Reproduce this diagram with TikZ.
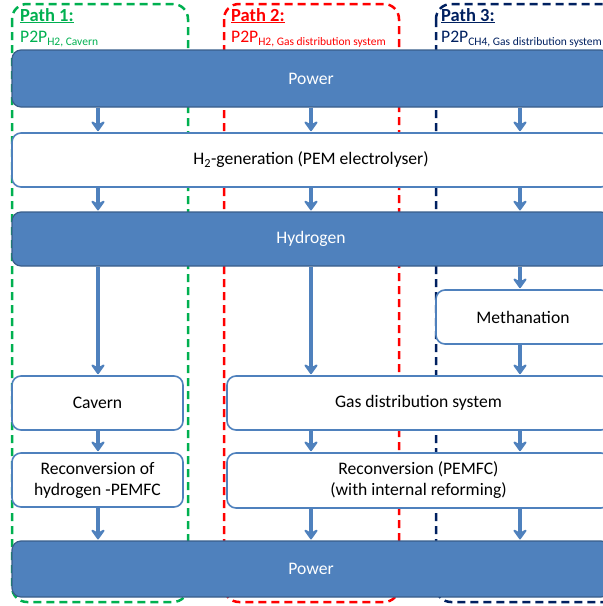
\documentclass[tikz,border=0pt]{standalone}
\usepackage{fontspec}
\setmainfont{Carlito}
\usetikzlibrary{arrows.meta}
\definecolor{bfill}{HTML}{4F81BD}
\definecolor{bdark}{HTML}{385D8A}
\definecolor{pgreen}{HTML}{00B050}
\definecolor{pred}{HTML}{FF0000}
\definecolor{pnavy}{HTML}{002060}
\newcommand\mainfs{\fontsize{17.6}{21}\selectfont}
\newcommand\labfs{\fontsize{18.5}{21}\selectfont\bfseries}
\newcommand\subfs{\fontsize{11.5}{13}\selectfont}
\newcommand\psub[1]{\raisebox{-3.5pt}{\subfs #1}}
\begin{document}
\begin{tikzpicture}[x=1pt,y=-1pt,
  solidbox/.style={draw=bdark, fill=bfill, line width=1.2pt, rounded corners=9pt, text=white, font=\mainfs, inner sep=0pt, align=center},
  whitebox/.style={draw=bfill, fill=white, line width=1.6pt, rounded corners=9pt, text=black, font=\mainfs, inner sep=0pt, align=center},
  frame/.style={line width=2.5pt, dash pattern=on 8pt off 5pt, rounded corners=15pt},
  arr/.style={draw=bfill, line width=3.3pt, shorten >=1pt, -{Stealth[length=12pt,width=17pt,inset=4.5pt,round]}},
  pathlab/.style={anchor=base west, font=\labfs, inner sep=0pt},
  pathsub/.style={anchor=base west, font=\mainfs, inner sep=0pt}]
\useasboundingbox (0,0) rectangle (603,606);
\clip (0,0) rectangle (603,606);
% dashed frames
\draw[frame, draw=pgreen] (12,4) rectangle (188,602);
\draw[frame, draw=pred] (224,4) rectangle (399,602);
\draw[frame, draw=pnavy] (436,4) rectangle (660,602);
% labels
\node[pathlab, text=pgreen] (l1) at (20,21) {\underline{Path 1:}};
\node[pathsub, text=pgreen] (s1) at (20,42) {P2P\psub{H2, Cavern}};
\node[pathlab, text=pred] (l2) at (231,21) {\underline{Path 2:}};
\node[pathsub, text=pred] (s2) at (231,42) {P2P\psub{H2, Gas distribution system}};
\node[pathlab, text=pnavy] (l3) at (441,21) {\underline{Path 3:}};
\node[pathsub, text=pnavy] (s3) at (441,42) {P2P\psub{CH4, Gas distribution system}};
% x positions of the arrows
\coordinate (xa) at (98,0);
\coordinate (xb) at (311,0);
\coordinate (xc) at (520,0);
% boxes
\node[solidbox, minimum width=598pt, minimum height=57pt] (pw1) at (311,78.5) {Power};
\node[whitebox, minimum width=598pt, minimum height=54pt] (gen) at (311,160) {H\textsubscript{2}-generation (PEM electrolyser)};
\node[solidbox, minimum width=598pt, minimum height=54pt] (hyd) at (311,239) {Hydrogen};
\node[whitebox, minimum width=174pt, minimum height=54pt] (meth) at (523,317) {Methanation};
\node[whitebox, minimum width=171pt, minimum height=54pt] (cav) at (97.5,403) {Cavern};
\node[whitebox, minimum width=383pt, minimum height=54pt] (gas) at (418.5,403) {Gas distribution system};
\node[whitebox, minimum width=171pt, minimum height=54pt] (rc1) at (97.5,480) {Reconversion of\\hydrogen -PEMFC};
\node[whitebox, minimum width=383pt, minimum height=55pt] (rc2) at (418.5,480.5) {Reconversion (PEMFC)\\(with internal reforming)};
\node[solidbox, minimum width=598pt, minimum height=56pt] (pw2) at (311,569) {Power};
% arrows
\foreach \x in {xa,xb,xc}{
  \draw[arr] (pw1.south -| \x) -- (gen.north -| \x);
  \draw[arr] (gen.south -| \x) -- (hyd.north -| \x);
}
\draw[arr] (hyd.south -| xa) -- (cav.north -| xa);
\draw[arr] (hyd.south -| xb) -- (gas.north -| xb);
\draw[arr] (hyd.south -| xc) -- (meth.north -| xc);
\draw[arr] (meth.south -| xc) -- (gas.north -| xc);
\draw[arr] (cav.south -| xa) -- (rc1.north -| xa);
\draw[arr] (gas.south -| xb) -- (rc2.north -| xb);
\draw[arr] (gas.south -| xc) -- (rc2.north -| xc);
\draw[arr] (rc1.south -| xa) -- (pw2.north -| xa);
\draw[arr] (rc2.south -| xb) -- (pw2.north -| xb);
\draw[arr] (rc2.south -| xc) -- (pw2.north -| xc);
\end{tikzpicture}
\end{document}
